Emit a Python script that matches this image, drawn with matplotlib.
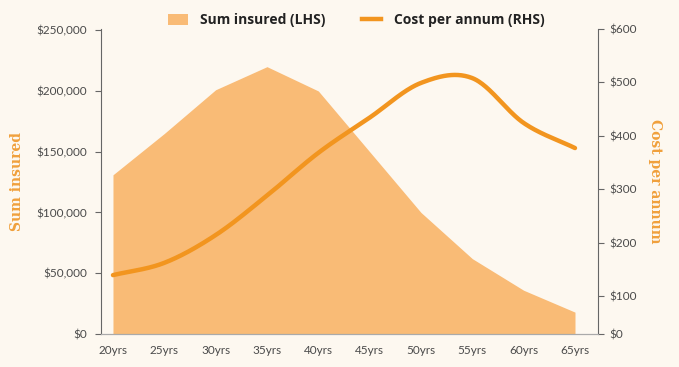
import numpy as np
import matplotlib.pyplot as plt
from matplotlib.patches import Patch
from matplotlib.lines import Line2D

# Data
ages = ['20yrs', '25yrs', '30yrs', '35yrs', '40yrs', '45yrs', '50yrs', '55yrs', '60yrs', '65yrs']
sum_insured = [131000, 165000, 201000, 220000, 200000, 150000, 100000, 62000, 36000, 18000]
cost_pa = [139, 162, 214, 288, 368, 434, 499, 508, 424, 377]

left_ticks = [0, 50000, 100000, 150000, 200000, 250000]
left_labels = ['$0', '$50,000', '$100,000', '$150,000', '$200,000', '$250,000']
right_ticks = [100, 200, 300, 400, 500, 600]
right_labels = ['$100', '$200', '$300', '$400', '$500', '$600']

bg = '#fdf8f0'
area_col = '#f9bb76'
line_col = '#f2951f'
label_col = '#f0a03c'
text_col = '#4a4a4a'


def smooth(x, y, n=400):
    # catmull-rom style cubic hermite, only for drawing a smooth line through the points
    x = np.asarray(x, float)
    y = np.asarray(y, float)
    h = np.diff(x)
    d = np.diff(y) / h
    m = np.zeros_like(y)
    m[0], m[-1] = d[0], d[-1]
    m[1:-1] = (y[2:] - y[:-2]) / (x[2:] - x[:-2])
    xs = np.linspace(x[0], x[-1], n)
    idx = np.clip(np.searchsorted(x, xs) - 1, 0, len(x) - 2)
    t = (xs - x[idx]) / h[idx]
    h00 = 2 * t**3 - 3 * t**2 + 1
    h10 = t**3 - 2 * t**2 + t
    h01 = -2 * t**3 + 3 * t**2
    h11 = t**3 - t**2
    ys = h00 * y[idx] + h10 * h[idx] * m[idx] + h01 * y[idx + 1] + h11 * h[idx] * m[idx + 1]
    return xs, ys


plt.rcParams['font.family'] = ['Lato', 'DejaVu Sans']

fig = plt.figure(figsize=(6.79, 3.67), dpi=100, facecolor=bg)
ax = fig.add_axes([0.1487, 0.0899, 0.7320, 0.8311])
ax.set_facecolor(bg)
x = np.arange(len(ages))

ax.fill_between(x, sum_insured, 0, color=area_col, linewidth=0, zorder=1)
ax.set_xlim(-0.234, 9.448)
ax.set_ylim(0, 251000)
ax.set_yticks(left_ticks)
ax.set_yticklabels(left_labels)
ax.set_xticks(x)
ax.set_xticklabels(ages)

ax2 = ax.twinx()
xs, ys = smooth(x, cost_pa)
ax2.plot(xs, ys, color=line_col, lw=3.2, solid_capstyle='round', zorder=3)
ax2.set_ylim(28.7, 600)
ax2.set_yticks([28.7] + right_ticks)
ax2.set_yticklabels(['$0'] + right_labels)

for a in (ax, ax2):
    a.spines['top'].set_visible(False)
    a.spines['left'].set_color('#666666')
    a.spines['right'].set_color('#666666')
    a.spines['bottom'].set_color('#aaaaaa')
    a.tick_params(colors='#666666', labelcolor=text_col, labelsize=8.5, length=4, width=0.8)
ax.tick_params(axis='x', length=0, pad=8)
ax.tick_params(axis='y', pad=6)
ax2.tick_params(axis='y', pad=4)
ax2.spines['left'].set_visible(False)
ax.spines['right'].set_visible(False)

ax.set_ylabel('Sum insured', family='DejaVu Serif', fontweight='bold',
              color=label_col, fontsize=10, labelpad=9)
ax2.set_ylabel('Cost per annum', family='DejaVu Serif', fontweight='bold',
               color=label_col, fontsize=10, rotation=270, labelpad=18)

handles = [Patch(facecolor=area_col, edgecolor='none', label='Sum insured (LHS)'),
           Line2D([0], [0], color=line_col, lw=3.2, label='Cost per annum (RHS)')]
leg = fig.legend(handles=handles, loc='center', bbox_to_anchor=(0.525, 0.945), ncol=2,
                 frameon=False, handlelength=1.4, handleheight=0.9, handletextpad=0.9,
                 columnspacing=2.6,
                 prop={'family': ['Open Sans', 'DejaVu Sans'], 'weight': 'bold', 'size': 10})
for t in leg.get_texts():
    t.set_color('#222222')

fig.savefig('out.png', dpi=100, facecolor=bg)
